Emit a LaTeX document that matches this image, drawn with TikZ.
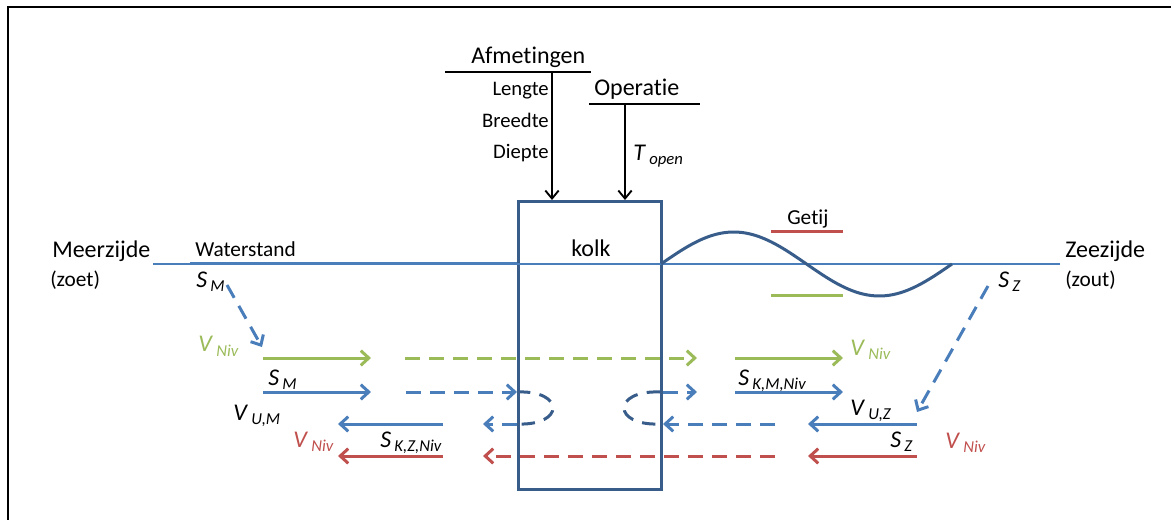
\documentclass[tikz,border=0pt]{standalone}
\usepackage{fontspec}
\setmainfont[Ligatures={NoCommon,NoRequired,NoContextual}]{Carlito}
\usetikzlibrary{arrows.meta}
\definecolor{dblue}{HTML}{385D8A}
\definecolor{mblue}{HTML}{4A7EBB}
\definecolor{lgreen}{HTML}{9BBB59}
\definecolor{lred}{HTML}{C0504D}
\newcommand{\lbl}[2]{{\fontsize{18}{20}\selectfont\textit{#1}}\hspace{2.5pt}\raisebox{-3pt}{\fontsize{12.5}{14}\selectfont\textit{#2}}}
\begin{document}
\begin{tikzpicture}[x=0.75pt,y=-0.75pt,
  txt/.style={inner sep=0pt, anchor=base west, font=\fontsize{18}{20}\selectfont},
  stxt/.style={inner sep=0pt, anchor=base west, font=\fontsize{15.5}{17}\selectfont},
  mtxt/.style={inner sep=0pt, anchor=base west, font=\fontsize{16}{18}\selectfont},
  flow/.style={line width=2.25pt, -{Straight Barb[length=6pt,width=11pt]}},
  dsh/.style={dash pattern=on 11pt off 7pt},
  blk/.style={line width=1.4pt, -{Straight Barb[length=6pt,width=10pt]}},
  ]
\useasboundingbox (0,0) rectangle (1171,520);
% frame
\draw[line width=1.5pt] (8,525) -- (8,7) -- (1180,7);

% kolk box
\node[draw=dblue, line width=2.25pt, minimum width=107.25pt, minimum height=216pt, inner sep=0pt, anchor=north west] (kolk) at (517,200) {};
\node[txt] (kolktxt) at (571,257) {kolk};

% Afmetingen
\node[txt] (afm) at (471,64) {Afmetingen};
\coordinate (afmL) at (445,72);
\coordinate (afmR) at (591,72);
\draw[line width=2.2pt] (afmL) -- (afmR);
\coordinate (afmA) at (552,72);
\draw[blk] (afmA) -- (afmA |- kolk.north);
\node[stxt, anchor=base east] (len) at (549,96) {Lengte};
\node[stxt, anchor=base east] (bre) at (549,128) {Breedte};
\node[stxt, anchor=base east] (die) at (549,159) {Diepte};

% Operatie
\node[txt] (ope) at (594,96) {Operatie};
\coordinate (opeL) at (589,104);
\coordinate (opeR) at (700,104);
\draw[line width=2.2pt] (opeL) -- (opeR);
\coordinate (opeA) at (625,104);
\draw[blk] (opeA) -- (opeA |- kolk.north);
\node[inner sep=0pt, anchor=base west] (topen) at (633,161) {\lbl{T}{open}};

% water line
\coordinate (wl0) at (153,264);
\coordinate (wl1) at (190,264);
\coordinate (wl2) at (1060,264);
\draw[mblue, line width=0.9pt] (wl0) -- (wl2);
\draw[mblue, line width=2.25pt] (wl1) -- (wl1 -| kolk.west);
\node[mtxt] (ws) at (195,257) {Waterstand};
\node[txt] (mz) at (52,258) {Meerzijde};
\node[mtxt] (zoet) at (50,287) {(zoet)};
\node[txt] (zz) at (1065,258) {Zeezijde};
\node[mtxt] (zout) at (1065,287) {(zout)};

% tide
\draw[dblue, line width=2.25pt] plot[domain=0:291, samples=80, smooth] ({661+\x}, {264-32*sin(\x/291*360)});
\node[mtxt] (getij) at (787,225) {Getij};
\draw[lred, line width=2.25pt] (771,232) -- (843,232);
\draw[lgreen, line width=2.25pt] (771,296) -- (843,296);

% S_M and S_Z
\node[inner sep=0pt, anchor=base west] (sm) at (196,288) {\lbl{S}{M}};
\coordinate (sm1) at (227,285);
\coordinate (sm2) at (262,347);
\draw[mblue, flow, dsh] (sm1) -- (sm2);
\node[inner sep=0pt, anchor=base west] (sz) at (998,288) {\lbl{S}{Z}};
\coordinate (sz1) at (988,286);
\coordinate (sz2) at (917,412);
\draw[mblue, flow, dsh] (sz1) -- (sz2);

% row 1 green
\coordinate (g1) at (263,358); \coordinate (g2) at (371,358);
\coordinate (g3) at (405,358); \coordinate (g4) at (697,358);
\coordinate (g5) at (735,358); \coordinate (g6) at (843,358);
\draw[lgreen, flow] (g1) -- (g2);
\draw[lgreen, flow, dsh] (g3) -- (g4);
\draw[lgreen, flow] (g5) -- (g6);
\node[inner sep=0pt, anchor=base west, text=lgreen] (vn1) at (198,352) {\lbl{V}{Niv}};
\node[inner sep=0pt, anchor=base west, text=lgreen] (vn2) at (850,355) {\lbl{V}{Niv}};

% row 2 blue
\coordinate (b1) at (263,392); \coordinate (b2) at (371,392);
\coordinate (b3) at (406,392);
\coordinate (b5) at (697,392);
\coordinate (b6) at (735,392); \coordinate (b7) at (843,392);
\draw[mblue, flow] (b1) -- (b2);
\draw[mblue, flow, dsh] (b3) -- (b3 -| kolk.west);
\draw[mblue, flow, dsh] (b5 -| kolk.east) -- (b5);
\draw[mblue, flow] (b6) -- (b7);
\node[inner sep=0pt, anchor=base west] (sm2l) at (268,385) {\lbl{S}{M}};
\node[inner sep=0pt, anchor=base west] (skm) at (738,385) {\lbl{S}{K,M,Niv}};

% loops
\coordinate (lt) at (517,392); \coordinate (lb) at (517,424);
\coordinate (rt) at (660,392); \coordinate (rb) at (660,424);
\draw[dblue, line width=2.25pt, dash pattern=on 10pt off 7pt] (lt) .. controls (565,390) and (565,426) .. (lb);
\draw[dblue, line width=2.25pt, dash pattern=on 10pt off 7pt] (rt) .. controls (612,390) and (612,426) .. (rb);

% row 3 blue
\coordinate (c1) at (443,424); \coordinate (c2) at (338,424);
\coordinate (c3) at (483,424);
\coordinate (c4) at (775,424);
\coordinate (c6) at (917,424); \coordinate (c7) at (808,424);
\draw[mblue, flow] (c1) -- (c2);
\draw[mblue, flow, dsh] (c3 -| kolk.west) -- (c3);
\draw[mblue, flow, dsh] (c4) -- (c4 -| kolk.east);
\draw[mblue, flow] (c6) -- (c7);
\node[inner sep=0pt, anchor=base west] (vum) at (233,420) {\lbl{V}{U,M}};
\node[inner sep=0pt, anchor=base west] (vuz) at (850,415) {\lbl{V}{U,Z}};

% row 4 red
\coordinate (r1) at (443,456); \coordinate (r2) at (338,456);
\coordinate (r3) at (775,456); \coordinate (r4) at (483,456);
\coordinate (r5) at (917,456); \coordinate (r6) at (808,456);
\draw[lred, flow] (r1) -- (r2);
\draw[lred, flow, dsh] (r3) -- (r4);
\draw[lred, flow] (r5) -- (r6);
\node[inner sep=0pt, anchor=base west, text=lred] (vn3) at (293,447) {\lbl{V}{Niv}};
\node[inner sep=0pt, anchor=base west] (skz) at (380,447) {\lbl{S}{K,Z,Niv}};
\node[inner sep=0pt, anchor=base west] (szb) at (890,447) {\lbl{S}{Z}};
\node[inner sep=0pt, anchor=base west, text=lred] (vn4) at (945,448) {\lbl{V}{Niv}};
\end{tikzpicture}
\end{document}
